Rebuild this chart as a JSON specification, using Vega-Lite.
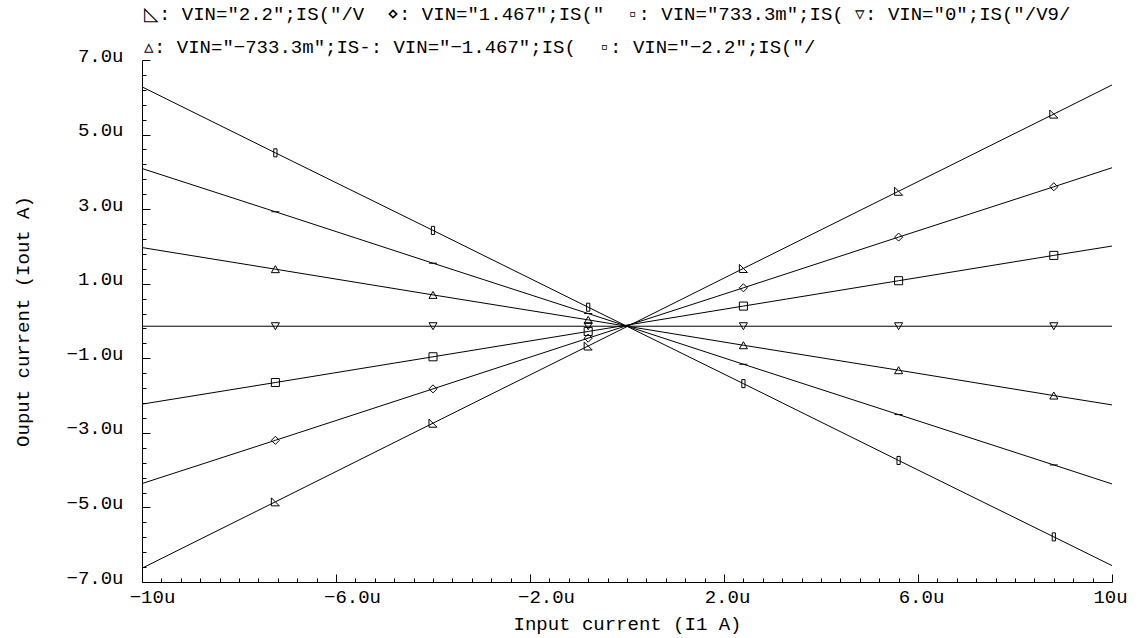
{
  "$schema": "https://vega.github.io/schema/vega-lite/v6.json",
  "width": 970,
  "height": 522,
  "autosize": {"type": "none"},
  "padding": {"left": 142, "top": 60, "right": 32, "bottom": 56},
  "background": "white",
  "config": {"view": {"stroke": null}, "font": "Liberation Mono"},
  "title": {
    "text": [
      "◺: VIN=\"2.2\";IS(\"/V \u00a0⋄: VIN=\"1.467\";IS(\" \u00a0▫: VIN=\"733.3m\";IS( ▿: VIN=\"0\";IS(\"/V9/",
      "▵: VIN=\"−733.3m\";IS-: VIN=\"−1.467\";IS( \u00a0▫: VIN=\"−2.2\";IS(\"/"
    ],
    "anchor": "start",
    "frame": "group",
    "offset": 6,
    "dx": 2,
    "dy": 17,
    "fontSize": 19,
    "fontWeight": "normal",
    "lineHeight": 33,
    "color": "black",
    "font": "Liberation Mono"
  },
  "data": {
    "values": [
      {"vin": "2.2", "x": -10, "y": -6.63, "m": 0},
      {"vin": "2.2", "x": -7.25, "y": -4.85, "m": 1},
      {"vin": "2.2", "x": -4.0, "y": -2.74, "m": 1},
      {"vin": "2.2", "x": -0.8, "y": -0.67, "m": 1},
      {"vin": "2.2", "x": 2.4, "y": 1.41, "m": 1},
      {"vin": "2.2", "x": 5.6, "y": 3.48, "m": 1},
      {"vin": "2.2", "x": 8.8, "y": 5.55, "m": 1},
      {"vin": "2.2", "x": 10, "y": 6.33, "m": 0},

      {"vin": "1.467", "x": -10, "y": -4.36, "m": 0},
      {"vin": "1.467", "x": -7.25, "y": -3.2, "m": 1},
      {"vin": "1.467", "x": -4.0, "y": -1.82, "m": 1},
      {"vin": "1.467", "x": -0.8, "y": -0.46, "m": 1},
      {"vin": "1.467", "x": 2.4, "y": 0.89, "m": 1},
      {"vin": "1.467", "x": 5.6, "y": 2.25, "m": 1},
      {"vin": "1.467", "x": 8.8, "y": 3.6, "m": 1},
      {"vin": "1.467", "x": 10, "y": 4.11, "m": 0},

      {"vin": "733.3m", "x": -10, "y": -2.23, "m": 0},
      {"vin": "733.3m", "x": -7.25, "y": -1.65, "m": 1},
      {"vin": "733.3m", "x": -4.0, "y": -0.96, "m": 1},
      {"vin": "733.3m", "x": -0.8, "y": -0.28, "m": 1},
      {"vin": "733.3m", "x": 2.4, "y": 0.4, "m": 1},
      {"vin": "733.3m", "x": 5.6, "y": 1.08, "m": 1},
      {"vin": "733.3m", "x": 8.8, "y": 1.76, "m": 1},
      {"vin": "733.3m", "x": 10, "y": 2.01, "m": 0},

      {"vin": "0", "x": -10, "y": -0.14, "m": 0},
      {"vin": "0", "x": -7.25, "y": -0.14, "m": 1},
      {"vin": "0", "x": -4.0, "y": -0.14, "m": 1},
      {"vin": "0", "x": -0.8, "y": -0.14, "m": 1},
      {"vin": "0", "x": 2.4, "y": -0.14, "m": 1},
      {"vin": "0", "x": 5.6, "y": -0.14, "m": 1},
      {"vin": "0", "x": 8.8, "y": -0.14, "m": 1},
      {"vin": "0", "x": 10, "y": -0.14, "m": 0},

      {"vin": "-733.3m", "x": -10, "y": 1.97, "m": 0},
      {"vin": "-733.3m", "x": -7.25, "y": 1.39, "m": 1},
      {"vin": "-733.3m", "x": -4.0, "y": 0.7, "m": 1},
      {"vin": "-733.3m", "x": -0.8, "y": 0.03, "m": 1},
      {"vin": "-733.3m", "x": 2.4, "y": -0.65, "m": 1},
      {"vin": "-733.3m", "x": 5.6, "y": -1.32, "m": 1},
      {"vin": "-733.3m", "x": 8.8, "y": -2.0, "m": 1},
      {"vin": "-733.3m", "x": 10, "y": -2.25, "m": 0},

      {"vin": "-1.467", "x": -10, "y": 4.09, "m": 0},
      {"vin": "-1.467", "x": -7.25, "y": 2.93, "m": 1},
      {"vin": "-1.467", "x": -4.0, "y": 1.55, "m": 1},
      {"vin": "-1.467", "x": -0.8, "y": 0.2, "m": 1},
      {"vin": "-1.467", "x": 2.4, "y": -1.16, "m": 1},
      {"vin": "-1.467", "x": 5.6, "y": -2.51, "m": 1},
      {"vin": "-1.467", "x": 8.8, "y": -3.86, "m": 1},
      {"vin": "-1.467", "x": 10, "y": -4.37, "m": 0},

      {"vin": "-2.2", "x": -10, "y": 6.28, "m": 0},
      {"vin": "-2.2", "x": -7.25, "y": 4.51, "m": 1},
      {"vin": "-2.2", "x": -4.0, "y": 2.43, "m": 1},
      {"vin": "-2.2", "x": -0.8, "y": 0.37, "m": 1},
      {"vin": "-2.2", "x": 2.4, "y": -1.68, "m": 1},
      {"vin": "-2.2", "x": 5.6, "y": -3.74, "m": 1},
      {"vin": "-2.2", "x": 8.8, "y": -5.79, "m": 1},
      {"vin": "-2.2", "x": 10, "y": -6.56, "m": 0}
    ]
  },
  "layer": [
    {
      "mark": {"type": "line", "color": "black", "strokeWidth": 1},
      "encoding": {
        "x": {
          "field": "x",
          "type": "quantitative",
          "scale": {"domain": [-10, 10], "nice": false, "zero": false},
          "axis": {
            "values": [-10, -9.6, -9.2, -8.8, -8.4, -8, -7.6, -7.2, -6.8, -6.4, -6, -5.6, -5.2, -4.8, -4.4, -4, -3.6, -3.2, -2.8, -2.4, -2, -1.6, -1.2, -0.8, -0.4, 0, 0.4, 0.8, 1.2, 1.6, 2, 2.4, 2.8, 3.2, 3.6, 4, 4.4, 4.8, 5.2, 5.6, 6, 6.4, 6.8, 7.2, 7.6, 8, 8.4, 8.8, 9.2, 9.6, 10],
            "tickCount": 500,
            "grid": false,
            "domainColor": "black",
            "tickColor": "black",
            "tickSize": {"condition": {"test": "abs((datum.value + 10) / 4 - round((datum.value + 10) / 4)) < 0.01", "value": -8}, "value": -4},
            "labelExpr": "abs((datum.value + 10) / 4 - round((datum.value + 10) / 4)) < 0.01 ? (abs(datum.value) > 9 ? format(datum.value, 'd') : format(datum.value, '.1f')) + 'u' : ''",
            "labelOverlap": false,
            "labelFlush": false,
            "labelPadding": 13,
            "labelOffset": {"condition": [{"test": "datum.value < -9", "value": 10}, {"test": "datum.value < 0", "value": 16}, {"test": "datum.value > 9", "value": -2}], "value": 3},
            "labelFontSize": 19,
            "labelColor": "black",
            "labelFont": "Liberation Mono",
            "title": "Input current (I1 A)",
            "titleFont": "Liberation Mono",
            "titleFontSize": 19,
            "titleFontWeight": "normal",
            "titleColor": "black",
            "titleX": 485,
            "titleY": 41,
            "titleBaseline": "middle",
            "titleAlign": "center"
          }
        },
        "y": {
          "field": "y",
          "type": "quantitative",
          "scale": {"domain": [-7, 7], "nice": false, "zero": false},
          "axis": {
            "values": [-7, -6.6, -6.2, -5.8, -5.4, -5, -4.6, -4.2, -3.8, -3.4, -3, -2.6, -2.2, -1.8, -1.4, -1, -0.6, -0.2, 0.2, 0.6, 1, 1.4, 1.8, 2.2, 2.6, 3, 3.4, 3.8, 4.2, 4.6, 5, 5.4, 5.8, 6.2, 6.6, 7],
            "tickCount": 500,
            "grid": false,
            "domainColor": "black",
            "tickColor": "black",
            "tickSize": {"condition": {"test": "abs((datum.value + 7) / 2 - round((datum.value + 7) / 2)) < 0.01", "value": -8}, "value": -4},
            "labelExpr": "abs((datum.value + 7) / 2 - round((datum.value + 7) / 2)) < 0.01 ? format(datum.value, '.1f') + 'u' : ''",
            "labelOverlap": false,
            "labelFlush": false,
            "labelPadding": 27,
            "labelOffset": -5,
            "labelFontSize": 19,
            "labelColor": "black",
            "labelFont": "Liberation Mono",
            "title": "Ouput current (Iout A)",
            "titleFont": "Liberation Mono",
            "titleFontSize": 19,
            "titleFontWeight": "normal",
            "titleColor": "black",
            "titleX": -120,
            "titleY": 261,
            "titleAngle": 270,
            "titleBaseline": "middle",
            "titleAlign": "center"
          }
        },
        "detail": {"field": "vin"}
      }
    },
    {
      "transform": [{"filter": "datum.m == 1"}],
      "mark": {"type": "point", "filled": false, "stroke": "black", "strokeWidth": 1, "size": 65, "opacity": 1},
      "encoding": {
        "x": {"field": "x", "type": "quantitative"},
        "y": {"field": "y", "type": "quantitative"},
        "shape": {
          "field": "vin",
          "scale": {
            "domain": ["2.2", "1.467", "733.3m", "0", "-733.3m", "-1.467", "-2.2"],
            "range": ["M-1,-1L1,1L-1,1Z", "diamond", "square", "triangle-down", "triangle-up", "stroke", "M-0.4,-1V1H0.4V-1Z"]
          },
          "legend": null
        }
      }
    }
  ]
}
